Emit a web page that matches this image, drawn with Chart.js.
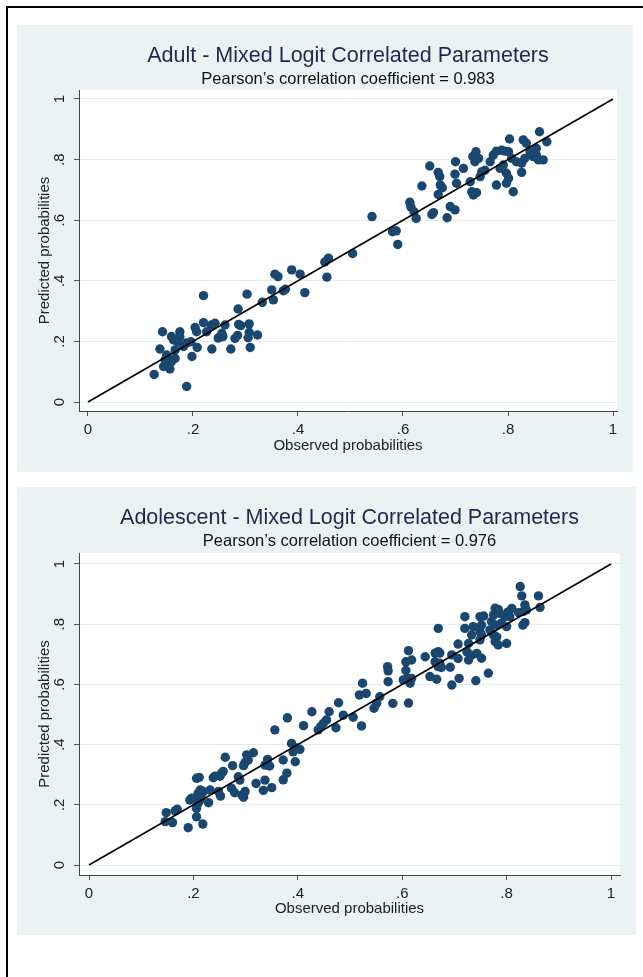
<!DOCTYPE html>
<html>
<head>
<meta charset="utf-8">
<script src="https://cdn.jsdelivr.net/npm/chart.js@4.4.1/dist/chart.umd.min.js"></script>
<style>
  html, body { margin: 0; padding: 0; background: #ffffff; width: 643px; height: 977px; overflow: hidden; position: relative; }
  #frame { position: absolute; left: 6px; top: 6px; width: 700px; height: 1000px; border-left: 2px solid #000; border-top: 2px solid #000; }
  .panel { position: absolute; background: #EAF2F3; }
  #p1 { left: 17px; top: 25px; width: 616px; height: 447px; }
  #p2 { left: 17px; top: 487px; width: 619px; height: 448px; }
  canvas { display: block; }
</style>
</head>
<body>
<div id="frame"></div>
<div class="panel" id="p1"><canvas id="c1" width="616" height="447" style="width:616px;height:447px"></canvas></div>
<div class="panel" id="p2"><canvas id="c2" width="619" height="448" style="width:619px;height:448px"></canvas></div>
<script>
// ---------- data ----------
const tickValues = [0, 0.2, 0.4, 0.6, 0.8, 1];
const tickLabels = ['0', '.2', '.4', '.6', '.8', '1'];
const refLineX = [0, 1];
const refLineY = [0, 1];

const adultTitle = 'Adult - Mixed Logit Correlated Parameters';
const adultSubtitle = 'Pearson\u2019s correlation coefficient = 0.983';
const adolTitle = 'Adolescent - Mixed Logit Correlated Parameters';
const adolSubtitle = 'Pearson\u2019s correlation coefficient = 0.976';
const xTitle = 'Observed probabilities';
const yTitle = 'Predicted probabilities';

const adultObserved = [
  0.126, 0.188, 0.142, 0.137, 0.147, 0.153, 0.159, 0.144, 0.156, 0.166,
  0.150, 0.159, 0.163, 0.166, 0.182, 0.175, 0.175, 0.170, 0.188, 0.196,
  0.198, 0.204, 0.207, 0.208, 0.220, 0.220, 0.226, 0.235, 0.242, 0.236,
  0.248, 0.257, 0.255, 0.261, 0.272, 0.280, 0.285, 0.287, 0.291, 0.286,
  0.307, 0.307, 0.305, 0.309, 0.323, 0.303, 0.332, 0.353, 0.350, 0.372,
  0.376, 0.356, 0.362, 0.388, 0.404, 0.413, 0.455, 0.451, 0.458, 0.504,
  0.541, 0.580, 0.587, 0.590,
  0.613, 0.615, 0.621, 0.625, 0.636, 0.651, 0.655, 0.658, 0.667, 0.670,
  0.671, 0.675, 0.667, 0.684, 0.690, 0.699, 0.700, 0.699, 0.702, 0.715,
  0.728, 0.731, 0.734, 0.740, 0.733, 0.739, 0.744, 0.737, 0.747, 0.750,
  0.756, 0.766, 0.772, 0.778, 0.788, 0.794, 0.801, 0.778, 0.785, 0.791,
  0.797, 0.801, 0.797, 0.810, 0.803, 0.807, 0.816, 0.826, 0.832, 0.826,
  0.829, 0.835, 0.842, 0.848, 0.854, 0.860, 0.867, 0.874, 0.854, 0.858
];
const adultPredicted = [
  0.091, 0.051, 0.232, 0.175, 0.139, 0.122, 0.133, 0.117, 0.109, 0.144,
  0.155, 0.216, 0.205, 0.172, 0.183, 0.232, 0.215, 0.199, 0.195, 0.199,
  0.150, 0.246, 0.232, 0.180, 0.262, 0.351, 0.232, 0.254, 0.260, 0.175,
  0.211, 0.216, 0.227, 0.254, 0.175, 0.210, 0.220, 0.256, 0.252, 0.307,
  0.258, 0.230, 0.212, 0.180, 0.221, 0.356, 0.329, 0.337, 0.370, 0.367,
  0.372, 0.422, 0.414, 0.436, 0.422, 0.361, 0.412, 0.462, 0.475, 0.490,
  0.612, 0.562, 0.565, 0.520,
  0.659, 0.644, 0.628, 0.606, 0.713, 0.779, 0.619, 0.625, 0.758, 0.744,
  0.716, 0.707, 0.685, 0.608, 0.645, 0.634, 0.793, 0.752, 0.722, 0.771,
  0.727, 0.694, 0.683, 0.691, 0.810, 0.826, 0.804, 0.793, 0.744, 0.760,
  0.765, 0.793, 0.815, 0.828, 0.831, 0.828, 0.826, 0.716, 0.771, 0.782,
  0.755, 0.738, 0.722, 0.694, 0.868, 0.804, 0.793, 0.788, 0.804, 0.758,
  0.865, 0.854, 0.826, 0.810, 0.837, 0.892, 0.799, 0.859, 0.815, 0.799
];

const adolObserved = [
  0.524, 0.518, 0.531, 0.546, 0.551, 0.557, 0.522, 0.506, 0.487, 0.478,
  0.460, 0.455, 0.449, 0.439, 0.444, 0.473, 0.427, 0.411, 0.380, 0.356,
  0.388, 0.391, 0.404, 0.398, 0.372, 0.395, 0.379, 0.372, 0.342, 0.346,
  0.337, 0.337, 0.320, 0.334, 0.350, 0.315, 0.302, 0.305, 0.299, 0.296,
  0.289, 0.286, 0.299, 0.296, 0.293, 0.275, 0.273, 0.279, 0.261, 0.254,
  0.251, 0.241, 0.238, 0.257, 0.252, 0.248, 0.232, 0.229, 0.213, 0.219,
  0.209, 0.215, 0.206, 0.211, 0.193, 0.197, 0.206, 0.209, 0.213, 0.206,
  0.218, 0.190, 0.169, 0.165, 0.148, 0.146, 0.160,
  0.582, 0.612, 0.573, 0.572, 0.573, 0.602, 0.609, 0.615, 0.618, 0.607,
  0.607, 0.618, 0.612, 0.644, 0.653, 0.666, 0.663, 0.669, 0.672, 0.675,
  0.669, 0.663, 0.672, 0.669, 0.692, 0.695, 0.695, 0.709, 0.707, 0.707,
  0.720, 0.720, 0.727, 0.727, 0.724, 0.733, 0.741, 0.736, 0.733, 0.749,
  0.756, 0.752, 0.743, 0.752, 0.749, 0.749, 0.752, 0.765, 0.768, 0.771,
  0.775, 0.778, 0.784, 0.787, 0.781, 0.790, 0.775, 0.778, 0.781, 0.784,
  0.800, 0.800, 0.797, 0.803, 0.810, 0.806, 0.826, 0.829, 0.835, 0.838,
  0.832, 0.831, 0.835, 0.861, 0.864, 0.823
];
const adolPredicted = [
  0.604, 0.565, 0.570, 0.521, 0.537, 0.559, 0.462, 0.491, 0.498, 0.539,
  0.509, 0.482, 0.471, 0.449, 0.460, 0.456, 0.509, 0.463, 0.489, 0.449,
  0.404, 0.376, 0.384, 0.389, 0.349, 0.343, 0.305, 0.283, 0.351, 0.329,
  0.332, 0.282, 0.271, 0.248, 0.257, 0.373, 0.366, 0.349, 0.341, 0.330,
  0.282, 0.293, 0.244, 0.225, 0.232, 0.330, 0.255, 0.240, 0.358, 0.305,
  0.295, 0.295, 0.290, 0.311, 0.229, 0.244, 0.249, 0.207, 0.249, 0.244,
  0.238, 0.233, 0.288, 0.291, 0.216, 0.222, 0.188, 0.205, 0.216, 0.160,
  0.136, 0.124, 0.185, 0.180, 0.174, 0.144, 0.141,
  0.537, 0.538, 0.609, 0.659, 0.645, 0.615, 0.620, 0.604, 0.620, 0.646,
  0.675, 0.681, 0.712, 0.692, 0.626, 0.617, 0.675, 0.659, 0.670, 0.656,
  0.709, 0.704, 0.704, 0.786, 0.657, 0.598, 0.698, 0.620, 0.686, 0.734,
  0.825, 0.786, 0.736, 0.681, 0.708, 0.697, 0.612, 0.792, 0.764, 0.825,
  0.827, 0.797, 0.703, 0.687, 0.775, 0.748, 0.764, 0.637, 0.781, 0.809,
  0.831, 0.853, 0.849, 0.836, 0.797, 0.803, 0.764, 0.742, 0.758, 0.731,
  0.736, 0.792, 0.825, 0.841, 0.852, 0.825, 0.925, 0.894, 0.864, 0.847,
  0.842, 0.797, 0.805, 0.894, 0.856, 0.838
];

// ---------- styling / rendering ----------
const FONT = '"Liberation Sans", Arial, Helvetica, sans-serif';
const DOT = '#1a476f';

const plotBgPlugin = {
  id: 'plotBg',
  beforeDraw(chart) {
    const a = chart.chartArea, ctx = chart.ctx;
    ctx.save();
    ctx.fillStyle = '#ffffff';
    ctx.fillRect(a.left, a.top, a.right - a.left, a.bottom - a.top);
    ctx.restore();
  }
};

const titlesPlugin = {
  id: 'stataTitles',
  afterDraw(chart, args, opts) {
    const a = chart.chartArea, ctx = chart.ctx;
    const cx = (a.left + a.right) / 2;
    ctx.save();
    ctx.textAlign = 'center';
    ctx.textBaseline = 'alphabetic';
    ctx.fillStyle = '#1c2b4c';
    ctx.font = '21.5px ' + FONT;
    ctx.fillText(opts.title, cx, opts.titleY);
    ctx.fillStyle = '#111111';
    ctx.font = '16.5px ' + FONT;
    ctx.fillText(opts.subtitle, cx, opts.subtitleY);
    ctx.restore();
  }
};

function tickLabelFor(v) {
  for (let i = 0; i < tickValues.length; i++) {
    if (Math.abs(tickValues[i] - v) < 1e-6) return tickLabels[i];
  }
  return '';
}

function makeChart(id, observed, predicted, title, subtitle, g) {
  const points = observed.map((x, i) => ({ x: x, y: predicted[i] }));
  const line = refLineX.map((x, i) => ({ x: x, y: refLineY[i] }));
  return new Chart(document.getElementById(id), {
    type: 'scatter',
    data: {
      datasets: [
        {
          type: 'line', data: line, borderColor: '#000000', borderWidth: 1.6,
          pointRadius: 0, fill: false, tension: 0
        },
        {
          type: 'scatter', data: points, backgroundColor: DOT, borderColor: DOT,
          borderWidth: 0, pointRadius: 4.7, pointHoverRadius: 4.7
        }
      ]
    },
    options: {
      responsive: false,
      animation: false,
      devicePixelRatio: 1,
      layout: { padding: { left: 0, right: g.padRight, top: g.padTop, bottom: 0 } },
      plugins: {
        legend: { display: false },
        tooltip: { enabled: false },
        stataTitles: { title: title, subtitle: subtitle, titleY: g.titleY, subtitleY: g.subtitleY }
      },
      scales: {
        x: {
          type: 'linear', position: 'bottom', min: g.xMin, max: g.xMax,
          afterBuildTicks: s => { s.ticks = tickValues.map(v => ({ value: v })); },
          afterFit: s => { s.height = g.xHeight; },
          grid: { display: true, drawOnChartArea: false, drawTicks: true, tickLength: 5, tickColor: '#555555', tickWidth: 1 },
          border: { display: true, color: '#444444', width: 1 },
          ticks: { callback: v => tickLabelFor(v), color: '#222222', font: { family: FONT, size: 15 }, padding: 5, maxRotation: 0, minRotation: 0, autoSkip: false },
          title: { display: true, text: xTitle, color: '#222222', font: { family: FONT, size: 15 }, padding: { top: 0, bottom: 17.5 } }
        },
        y: {
          type: 'linear', position: 'left', min: g.yMin, max: g.yMax,
          afterBuildTicks: s => { s.ticks = tickValues.map(v => ({ value: v })); },
          afterFit: s => { s.width = 62; },
          grid: { display: true, drawOnChartArea: true, color: '#e3ecef', lineWidth: 1, drawTicks: true, tickLength: 5, tickColor: '#555555', tickWidth: 1 },
          border: { display: true, color: '#444444', width: 1 },
          ticks: { callback: v => tickLabelFor(v), color: '#222222', font: { family: FONT, size: 15 }, padding: 8, minRotation: 90, maxRotation: 90, crossAlign: 'center', autoSkip: false },
          title: { display: true, text: yTitle, color: '#222222', font: { family: FONT, size: 15 }, padding: { top: 19, bottom: 0 } }
        }
      }
    },
    plugins: [plotBgPlugin, titlesPlugin]
  });
}

makeChart('c1', adultObserved, adultPredicted, adultTitle, adultSubtitle, {
  xMin: -0.0171, xMax: 1.0076, yMin: -0.0297, yMax: 1.0297,
  padTop: 65, padRight: 16, xHeight: 61, titleY: 36.5, subtitleY: 58.5
});
makeChart('c2', adolObserved, adolPredicted, adolTitle, adolSubtitle, {
  xMin: -0.0192, xMax: 1.0172, yMin: -0.0332, yMax: 1.0365,
  padTop: 66, padRight: 16, xHeight: 60, titleY: 36.5, subtitleY: 59
});
</script>
</body>
</html>
